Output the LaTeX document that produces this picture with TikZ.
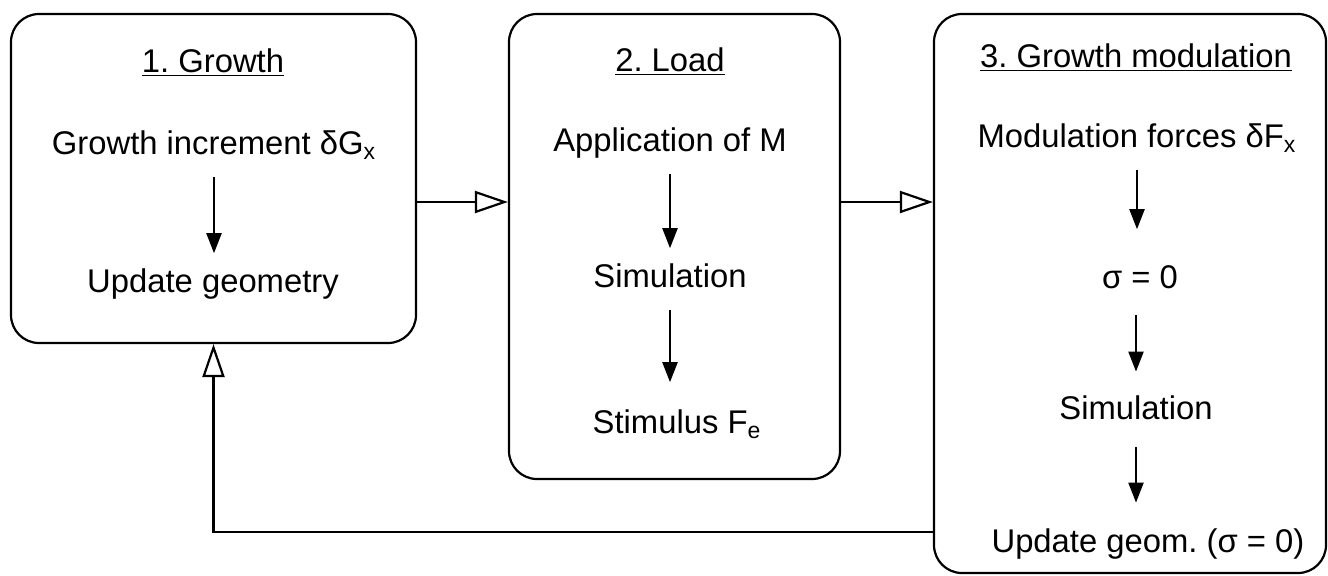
\documentclass[tikz,border=0pt]{standalone}
\usepackage{fontspec}
\setmainfont{Liberation Sans}
\usetikzlibrary{arrows.meta}
\usetikzlibrary{calc}
\frenchspacing

\begin{document}
\begin{tikzpicture}[x=0.5pt, y=-0.5pt,
            stage/.style={draw, line width=1.1pt, rounded corners=14pt, inner sep=0pt},
            title/.style={anchor=base, inner sep=0pt, font=\fontsize{16.4}{19}\selectfont},
            item/.style={anchor=base, inner xsep=0pt, inner ysep=7.5pt, text height=11.7pt, text depth=4pt, font=\fontsize{16.4}{19}\selectfont},
            next/.style={-{Triangle[length=10pt, width=7.5pt]}, line width=1.1pt},
            flow/.style={-{Triangle[open, length=16.5pt, width=11pt]}, line width=1.1pt}]
            \useasboundingbox (0, 0) rectangle (1328, 575);
            \node[stage, minimum width=202.5pt, minimum height=164.5pt] (growth) at (213.5, 178.5) {};
            \node[stage, minimum width=165.5pt, minimum height=232.5pt] (load) at (674.5, 246.5) {};
            \node[stage, minimum width=196pt, minimum height=279.5pt] (modul) at (1130, 293.5) {};
            \node[title] (growth-title) at (213, 72) {\underline{1. Growth}};
            \node[title] (load-title) at (670, 71) {\underline{2. Load}};
            \node[title] (modul-title) at (1136, 67) {\underline{3. Growth modulation}};
            \node[item] (increment) at (214, 154) {Growth increment δG\textsubscript{x}};
            \node[item] (update) at (213, 292) {Update geometry};
            \node[item] (apply) at (670, 151) {Application of M};
            \node[item] (sim-load) at (670, 287) {Simulation};
            \node[item] (stimulus) at (677, 433) {Stimulus F\textsubscript{e}};
            \node[item] (forces) at (1137, 147) {Modulation forces δF\textsubscript{x}};
            \node[item] (zero) at (1140, 288) {σ = 0};
            \node[item] (sim-mod) at (1136, 419) {Simulation};
            \node[item] (update-mod) at (1148, 552) {Update geom. (σ = 0)};
            \coordinate (row) at (0, 202);
            \coordinate (back) at (0, 532);
            \draw[next] (increment.south) -- (increment.south |- update.north);
            \draw[next] (apply.south) -- (apply.south |- sim-load.north);
            \draw[next, shorten >=6pt] (sim-load.south) -- (sim-load.south |- stimulus.north);
            \draw[next, shorten >=10pt] (forces.south) -- (forces.south |- zero.north);
            \draw[next, shorten <=2pt, shorten >=4.3pt] (sim-mod.north |- zero.south) -- (sim-mod.north);
            \draw[next, shorten <=2.5pt, shorten >=5.3pt] (sim-mod.south) -- (sim-mod.south |- update-mod.north);
            \draw[flow] (growth.east |- row) -- (load.west |- row);
            \draw[flow] (load.east |- row) -- (modul.west |- row);
            \draw[flow] (modul.west |- back) -| (growth.south);
        \end{tikzpicture}
\end{document}
